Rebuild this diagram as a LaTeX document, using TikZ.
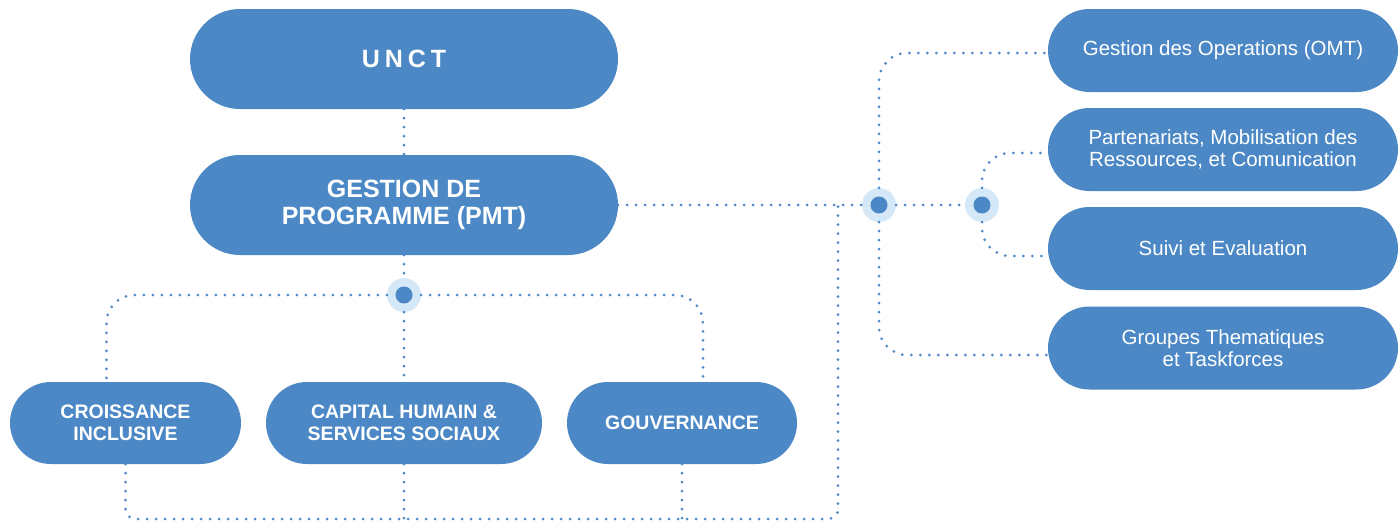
\documentclass[tikz,border=0pt]{standalone}
\usepackage{fontspec}
\setmainfont{Liberation Sans}
\usetikzlibrary{calc}
\definecolor{boxblue}{RGB}{75,136,197}
\definecolor{hublight}{RGB}{212,232,248}
\begin{document}
\begin{tikzpicture}[x=1pt,y=-1pt,
 pill/.style={rectangle, fill=boxblue, text=white, align=center, inner sep=0pt},
 big/.style={pill, minimum width=428pt, minimum height=100pt, rounded corners=50pt, font=\fontsize{25}{27}\selectfont\bfseries},
 mid/.style={pill, minimum height=82pt, rounded corners=41pt, font=\fontsize{19.5}{22}\selectfont\bfseries},
 side/.style={pill, minimum width=350pt, minimum height=83pt, rounded corners=41.5pt, font=\fontsize{20.5}{22}\selectfont},
 dotline/.style={draw=boxblue, line width=3pt, line cap=round, dash pattern=on 0pt off 9pt},
 hubo/.style={circle, fill=hublight, minimum size=34pt, inner sep=0pt},
 hubi/.style={circle, fill=boxblue, minimum size=17pt, inner sep=0pt}]
\useasboundingbox (0,0) rectangle (1400,522);

% main boxes
\node[big] (unct) at (404,59) {U\hspace{5pt}N\hspace{5pt}C\hspace{5pt}T};
\node[big] (pmt) at (404,205) {GESTION DE\\PROGRAMME (PMT)};

\node[mid, minimum width=231pt] (cro) at (125.5,423) {CROISSANCE\\INCLUSIVE};
\node[mid, minimum width=276pt] (cap) at (404,423) {CAPITAL HUMAIN \&\\SERVICES SOCIAUX};
\node[mid, minimum width=230pt] (gov) at (682,423) {GOUVERNANCE};

\node[side] (o1) at (1223,50.5) {Gestion des Operations (OMT)};
\node[side] (o2) at (1223,149.5) {Partenariats, Mobilisation des\\Ressources, et Comunication};
\node[side] (o3) at (1223,248.5) {Suivi et Evaluation};
\node[side] (o4) at (1223,348) {Groupes Thematiques\\et Taskforces};

% hubs
\node[hubo] (hubL) at (404,295) {};
\node[hubi] at (hubL) {};
\node[hubo] (hub1) at (879,205) {};
\node[hubi] at (hub1) {};
\node[hubo] (hub2) at (982,205) {};
\node[hubi] at (hub2) {};

\coordinate (br) at (838,519);
\coordinate (bj) at (838,205);

% connectors
\draw[dotline] (unct.south) -- (pmt.north);
\draw[dotline] (pmt.south) -- (hubL);
\draw[dotline] (hubL) -- (cap.north);
\draw[dotline, rounded corners=28pt] (hubL) -| ([xshift=-19pt]cro.north);
\draw[dotline, rounded corners=28pt] (hubL) -| ([xshift=21pt]gov.north);

\draw[dotline, rounded corners=10pt] (cro.south) |- (br) -- (bj);
\draw[dotline] (cap.south) -- (cap.south |- br);
\draw[dotline] (gov.south) -- (gov.south |- br);

\draw[dotline] (pmt.east) -- (hub1);
\draw[dotline] (hub1) -- (hub2);
\draw[dotline, rounded corners=28pt] (hub1) |- ([yshift=-2.5pt]o1.west);
\draw[dotline, rounded corners=28pt] (hub1) |- ([yshift=-7pt]o4.west);
\draw[dotline, rounded corners=28pt] (hub2) |- ([yshift=-3.5pt]o2.west);
\draw[dotline, rounded corners=28pt] (hub2) |- ([yshift=-7.5pt]o3.west);
\end{tikzpicture}
\end{document}
